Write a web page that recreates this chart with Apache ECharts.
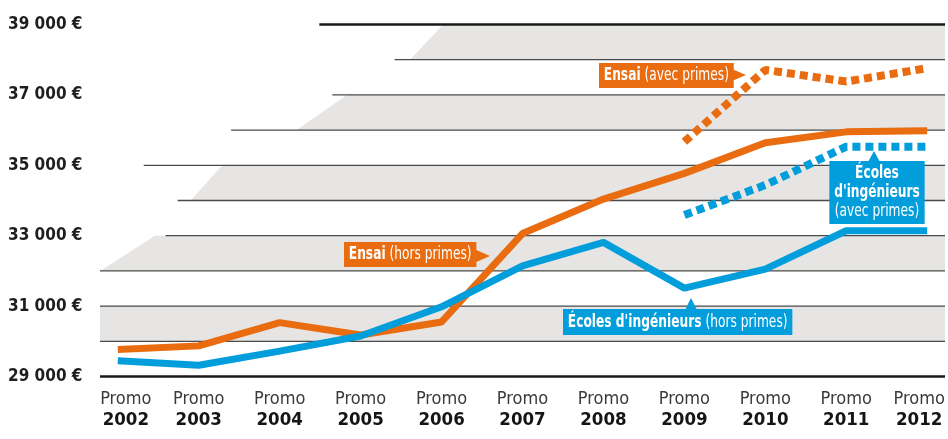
<!DOCTYPE html>
<html>
<head>
<meta charset="utf-8">
<script src="https://cdn.jsdelivr.net/npm/echarts@6/dist/echarts.min.js"></script>
<style>
  html, body { margin: 0; padding: 0; background: #fff; }
  #chart { width: 948px; height: 439px; }
</style>
</head>
<body>
<div id="chart"></div>
<script>
const FONT = "'Liberation Sans Narrow', 'DejaVu Sans Condensed', sans-serif";
const ORANGE = "#e96c10";
const BLUE = "#029ddb";

// promos
const years = [2002, 2003, 2004, 2005, 2006, 2007, 2008, 2009, 2010, 2011, 2012];
// salaires (€)
const ensaiHors = [29770, 29870, 30530, 30180, 30550, 33060, 34040, 34770, 35640, 35950, 35980];
const ecolesHors = [29450, 29320, 29720, 30150, 30980, 32140, 32810, 31510, 32050, 33140, 33140];
const ensaiAvec = [null, null, null, null, null, null, null, 35670, 37710, 37380, 37760];
const ecolesAvec = [null, null, null, null, null, null, null, 33590, 34440, 35530, 35530];
const yTicks = [29000, 31000, 33000, 35000, 37000, 39000];

// fond : bandes grises [haut, bas, debut x en haut, debut x en bas]
const bands = [
    [39000, 38000, 2006.02, 2005.61],
    [37000, 36000, 2004.83, 2004.21],
    [35000, 34000, 2003.29, 2002.90],
    [33000, 32000, 2002.46, 2001.78],
    [31000, 30000, 2001.78, 2001.78],
];
// lignes horizontales [valeur, debut x]
const rules = [
    [39000, 2004.49], [38000, 2005.42], [37000, 2004.65], [36000, 2003.40],
    [35000, 2002.32], [34000, 2002.74], [33000, 2002.59], [32000, 2001.78],
    [31000, 2001.78], [30000, 2001.78], [29000, 2001.78],
];
const xMin = 2001.78;
const xMax = 2012.22;

const pairs = (vals) => years.map((y, i) => [y, vals[i]]);

// étiquette en texte riche, un peu condensée
function tag(x, y, text, bg, extra) {
    return {
        type: "text", x: x, y: y, z: 10, scaleX: 0.8,
        style: Object.assign({
            text: text,
            font: "17px " + FONT, fill: "#fff",
            backgroundColor: bg, padding: [4, 6, 4, 6],
            rich: { b: { fontFamily: FONT, fontSize: 17, fontWeight: "bold", fill: "#fff" } },
        }, extra || {}),
    };
}

// styles des libellés de l'axe x (premier et dernier un peu décalés vers l'intérieur)
const pStyle = { fontFamily: FONT, fontSize: 18, color: "#3a3a3a", lineHeight: 21 };
const yStyle = { fontFamily: FONT, fontSize: 18.5, fontWeight: "bold", color: "#151515", lineHeight: 22 };
const xRich = {
    p: pStyle, y: yStyle,
    pL: Object.assign({}, pStyle, { padding: [0, 0, 0, 16] }),
    yL: Object.assign({}, yStyle, { padding: [0, 0, 0, 16] }),
    pR: Object.assign({}, pStyle, { padding: [0, 16, 0, 0] }),
    yR: Object.assign({}, yStyle, { padding: [0, 16, 0, 0] }),
};

let chart = echarts.init(document.getElementById("chart"));
let option = {
    animation: false,
    grid: { left: 100, right: 3, top: 24.5, bottom: 62.5, outerBoundsMode: "none" },
    xAxis: {
        type: "value",
        min: xMin,
        max: xMax,
        axisLine: { show: false },
        axisTick: { show: false },
        splitLine: { show: false },
        axisLabel: {
            customValues: years,
            margin: 12,
            lineHeight: 22,
            formatter: (v) => {
                const s = v === years[0] ? "L" : v === years[years.length - 1] ? "R" : "";
                return "{p" + s + "|Promo}\n{y" + s + "|" + v + "}";
            },
            rich: xRich,
        },
    },
    yAxis: {
        type: "value",
        min: 29000,
        max: 39000,
        interval: 2000,
        axisLine: { show: false },
        axisTick: { show: false },
        splitLine: { show: false },
        axisLabel: {
            align: "left",
            margin: 92,
            fontFamily: FONT,
            fontSize: 17,
            fontWeight: "bold",
            color: "#1e1e1e",
            formatter: (v) => v / 1000 + " 000 €",
        },
    },
    series: [
        {
            type: "custom",
            silent: true,
            z: 1,
            data: bands,
            renderItem: (params, api) => {
                const tl = api.coord([api.value(2), api.value(0)]);
                const bl = api.coord([api.value(3), api.value(1)]);
                const tr = api.coord([xMax, api.value(0)]);
                const br = api.coord([xMax, api.value(1)]);
                return {
                    type: "polygon",
                    shape: { points: [tl, tr, br, bl] },
                    style: { fill: "#e6e5e3" },
                };
            },
        },
        {
            type: "custom",
            silent: true,
            z: 2,
            data: rules,
            renderItem: (params, api) => {
                const v = api.value(0);
                const a = api.coord([api.value(1), v]);
                const b = api.coord([xMax, v]);
                const heavy = v === 29000 || v === 39000;
                return {
                    type: "line",
                    shape: { x1: a[0], y1: a[1], x2: b[0], y2: b[1] },
                    style: {
                        stroke: heavy ? "#1a1a1a" : "#4a4a4a",
                        lineWidth: heavy ? 2.5 : 1.3,
                    },
                };
            },
        },
        {
            name: "Ensai (hors primes)",
            type: "line",
            z: 3,
            data: pairs(ensaiHors),
            showSymbol: false,
            lineStyle: { color: ORANGE, width: 7 },
        },
        {
            name: "Écoles d'ingénieurs (hors primes)",
            type: "line",
            z: 4,
            data: pairs(ecolesHors),
            showSymbol: false,
            lineStyle: { color: BLUE, width: 7 },
        },
        {
            name: "Ensai (avec primes)",
            type: "line",
            z: 3,
            data: pairs(ensaiAvec),
            showSymbol: false,
            lineStyle: { color: ORANGE, width: 8, type: [8, 5], cap: "butt" },
        },
        {
            name: "Écoles d'ingénieurs (avec primes)",
            type: "line",
            z: 3,
            data: pairs(ecolesAvec),
            showSymbol: false,
            lineStyle: { color: BLUE, width: 8, type: [8, 5], cap: "butt" },
        },
    ],
    graphic: [
        tag(599, 63, "{b|Ensai} (avec primes)", ORANGE),
        { type: "polygon", z: 10, shape: { points: [[732, 69], [746, 75], [732, 81]] }, style: { fill: ORANGE } },
        tag(344, 242, "{b|Ensai} (hors primes)", ORANGE),
        { type: "polygon", z: 10, shape: { points: [[474, 249], [490, 256], [474, 263]] }, style: { fill: ORANGE } },
        tag(563, 309, "{b|Écoles d'ingénieurs} (hors primes)", BLUE, { padding: [5, 6, 4, 6] }),
        { type: "polygon", z: 10, shape: { points: [[685, 310], [691, 298], [697, 310]] }, style: { fill: BLUE } },
        tag(877, 161, "{b|Écoles}\n{b|d'ingénieurs}\n(avec primes)", BLUE, {
            align: "center", lineHeight: 19, padding: [3, 6, 3, 6],
            rich: { b: { fontFamily: FONT, fontSize: 17, fontWeight: "bold", fill: "#fff", lineHeight: 19 } },
        }),
        { type: "polygon", z: 10, shape: { points: [[868, 162], [874, 151], [880, 162]] }, style: { fill: BLUE } },
    ],
};
chart.setOption(option);
</script>
</body>
</html>
